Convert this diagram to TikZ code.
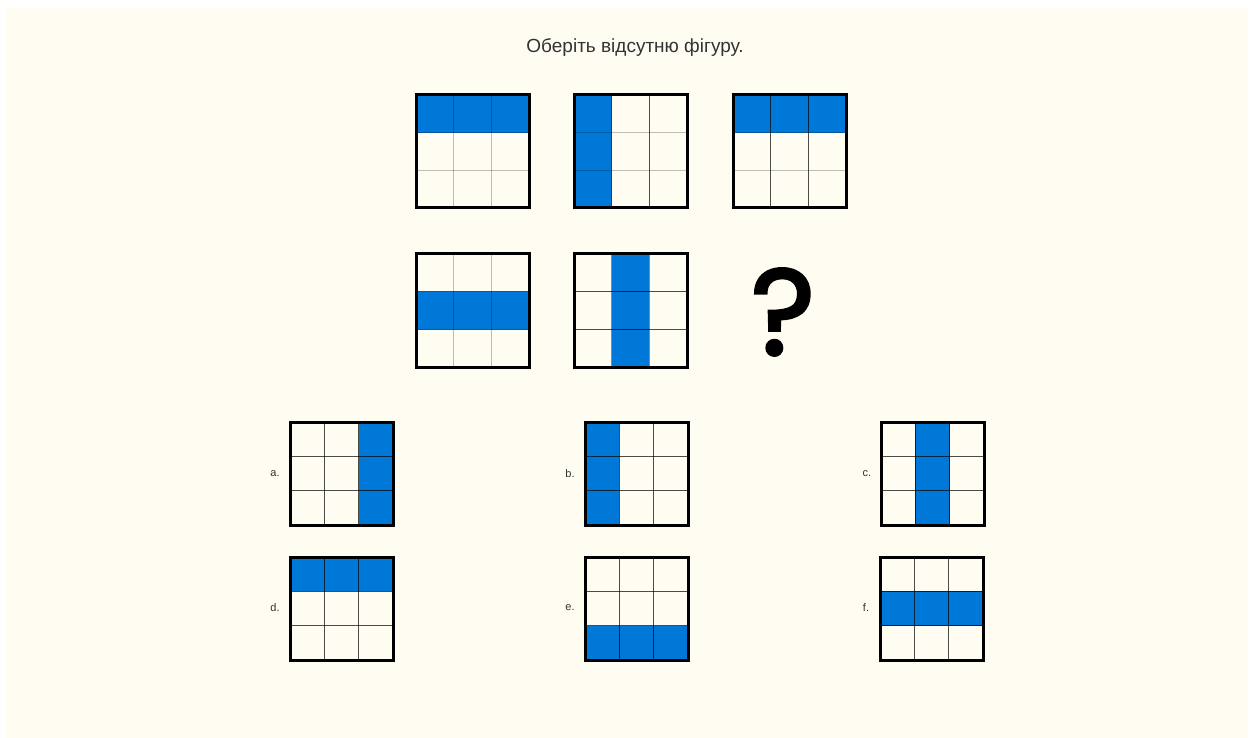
\documentclass[tikz,border=0pt]{standalone}
\usepackage{fontspec}
\setmainfont{Liberation Sans}
\newfontfamily\qfont[FakeBold=2.5]{Poppins}
\definecolor{cream}{HTML}{FFFCF2}
\definecolor{cellblue}{HTML}{0078D7}
\definecolor{txt}{HTML}{333333}
\tikzset{
  lt/.style={draw=black, draw opacity=0.25, line width=1.3pt},
  dk/.style={draw=black, draw opacity=0.7, line width=1.3pt},
  md/.style={draw=black, draw opacity=0.45, line width=1.3pt},
  border/.style={draw=black, line width=3pt},
  lbl/.style={font=\fontsize{11}{13}\selectfont, text=txt, inner sep=0pt}
}
% #1 x, #2 y (top-left, px), #3 size, #4 fill cmds, #5 v1, #6 v2, #7 h1, #8 h2
\newcommand\pgrid[8]{%
  \pgfmathsetmacro\gs{#3/3}%
  \begin{scope}[shift={(#1,#2)}, scale=\gs]
    #4
    \draw[#5] (1,0) -- (1,3);
    \draw[#6] (2,0) -- (2,3);
    \draw[#7] (0,1) -- (3,1);
    \draw[#8] (0,2) -- (3,2);
    \draw[border] (0,0) rectangle (3,3);
  \end{scope}}
\newcommand\rowfill[1]{\fill[cellblue] (0,#1) rectangle (3,#1+1);}
\newcommand\colfill[1]{\fill[cellblue] (#1,0) rectangle (#1+1,3);}
\begin{document}
\begin{tikzpicture}[x=1pt,y=-1pt]
  \useasboundingbox (0,0) rectangle (1254,738);
  \fill[white] (0,0) rectangle (1254,738);
  \fill[cream] (6,8) rectangle (1248,738);
  \node[font=\fontsize{19}{23}\selectfont, text=txt] (title) at (635,48) {Оберіть відсутню фігуру.};
  % puzzle
  \pgrid{416}{95}{113}{\rowfill{0}}{lt}{lt}{lt}{lt}
  \pgrid{574}{95}{113}{\colfill{0}}{md}{dk}{lt}{lt}
  \pgrid{733}{95}{113}{\rowfill{0}}{dk}{dk}{lt}{lt}
  \pgrid{416}{254}{113}{\rowfill{1}}{lt}{lt}{dk}{dk}
  \pgrid{574}{254}{113}{\colfill{1}}{md}{md}{dk}{dk}
  \node[font=\qfont\fontsize{122}{130}\selectfont, inner sep=0pt] (qm) at (783,312) {?};
  % options
  \pgrid{290}{422}{103}{\colfill{2}}{dk}{dk}{dk}{dk}
  \pgrid{585}{422}{103}{\colfill{0}}{dk}{dk}{dk}{dk}
  \pgrid{881}{422}{103}{\colfill{1}}{dk}{dk}{dk}{dk}
  \pgrid{290}{557}{103}{\rowfill{0}}{dk}{dk}{dk}{dk}
  \pgrid{585}{557}{103}{\rowfill{2}}{dk}{dk}{dk}{dk}
  \pgrid{880}{557}{103}{\rowfill{1}}{dk}{dk}{dk}{dk}
  \node[lbl] (la) at (275,474) {a.};
  \node[lbl] (lb) at (570,474) {b.};
  \node[lbl] (lc) at (867,474) {c.};
  \node[lbl] (ld) at (275,608) {d.};
  \node[lbl] (le) at (570,608) {e.};
  \node[lbl] (lf) at (866,608) {f.};
\end{tikzpicture}
\end{document}
